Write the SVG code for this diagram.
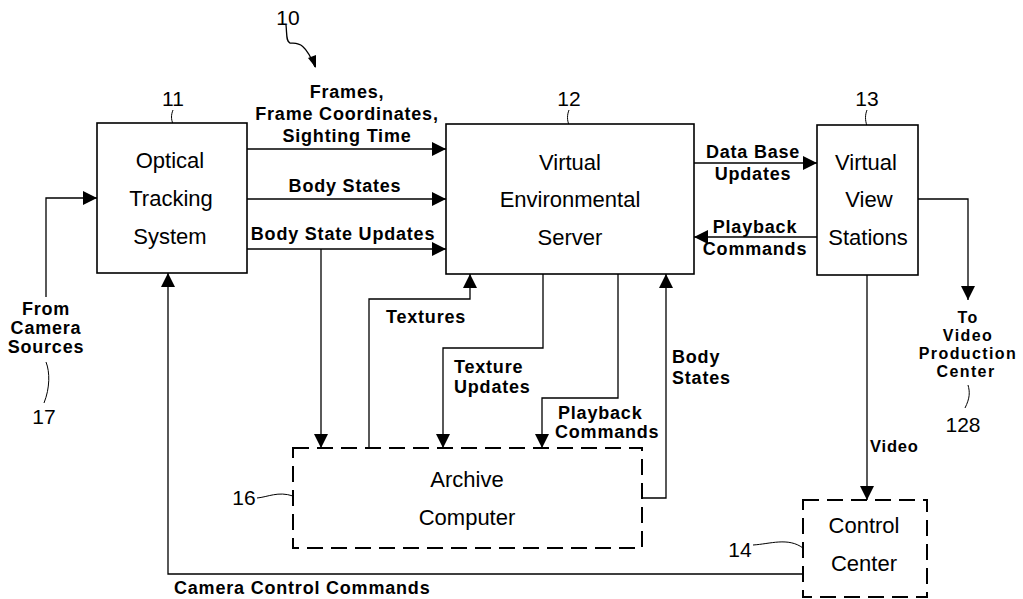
<svg xmlns="http://www.w3.org/2000/svg" width="1023" height="599" viewBox="0 0 1023 599">
<style>
.box{fill:#fff;stroke:#000;stroke-width:1.6}
.dbox{fill:#fff;stroke:#000;stroke-width:2;stroke-dasharray:16 8}
.ln{fill:none;stroke:#000;stroke-width:1.3}
.lead{fill:none;stroke:#000;stroke-width:1}
.t{font-family:"Liberation Sans",Arial,sans-serif;font-size:22px;text-anchor:middle;fill:#000}
.n{font-family:"Liberation Sans",Arial,sans-serif;font-size:21px;text-anchor:middle;fill:#000}
.b{font-family:"Liberation Sans",Arial,sans-serif;font-size:18px;font-weight:bold;letter-spacing:0.8px;fill:#000}
.s{font-size:16px;letter-spacing:1.4px}
.c{text-anchor:middle}
</style>
<defs>
<marker id="ah" viewBox="0 0 10 10" refX="10" refY="5" markerWidth="14" markerHeight="14" markerUnits="userSpaceOnUse" orient="auto">
<path d="M0,0 L10,5 L0,10 Z" fill="#000"/>
</marker>
</defs>
<rect width="1023" height="599" fill="#fff"/>

<g id="connectors">
<path class="ln" d="M247,149 H446" marker-end="url(#ah)"/>
<path class="ln" d="M247,199 H446" marker-end="url(#ah)"/>
<path class="ln" d="M247,249 H446" marker-end="url(#ah)"/>
<path class="ln" d="M694,163 H817" marker-end="url(#ah)"/>
<path class="ln" d="M817,237 H694" marker-end="url(#ah)"/>
<path class="ln" d="M918,199 H968 V300" marker-end="url(#ah)"/>
<path class="ln" d="M46,297 V198 H97" marker-end="url(#ah)"/>
<path class="ln" d="M321,249 V448" marker-end="url(#ah)"/>
<path class="ln" d="M369,448 V299 H470 V274" marker-end="url(#ah)"/>
<path class="ln" d="M543,274 V348 H443 V448" marker-end="url(#ah)"/>
<path class="ln" d="M618,274 V398 H542 V448" marker-end="url(#ah)"/>
<path class="ln" d="M642,498 H666 V274" marker-end="url(#ah)"/>
<path class="ln" d="M867,275 V500" marker-end="url(#ah)"/>
<path class="ln" d="M803,574 H168 V273" marker-end="url(#ah)"/>
<path class="ln" d="M286,25 C287,34 286,42 290,43 C297,44 304,40 315,67" />
<path d="M308,58 L316,68 L316,55 Z" fill="#000"/>
</g>

<g id="labels">
<text class="b c" x="347" y="98">Frames,</text>
<text class="b c" x="347" y="120">Frame Coordinates,</text>
<text class="b c" x="347" y="142">Sighting Time</text>
<text class="b c" x="345" y="192">Body States</text>
<text class="b c" x="343" y="240">Body State Updates</text>
<text class="b c" x="753" y="158">Data Base</text>
<text class="b c" x="753" y="180">Updates</text>
<text class="b c" x="755" y="233">Playback</text>
<text class="b c" x="755" y="255">Commands</text>
<text class="b s c" x="968" y="323">To</text>
<text class="b s c" x="968" y="341">Video</text>
<text class="b s c" x="968" y="359">Production</text>
<text class="b s c" x="966" y="377">Center</text>
<text class="b c" x="46" y="315">From</text>
<text class="b c" x="46" y="334">Camera</text>
<text class="b c" x="46" y="353">Sources</text>
<text class="b" x="386" y="323">Textures</text>
<text class="b" x="454" y="373">Texture</text>
<text class="b" x="454" y="393">Updates</text>
<text class="b" x="558" y="419">Playback</text>
<text class="b" x="555" y="438">Commands</text>
<text class="b" x="672" y="363">Body</text>
<text class="b" x="672" y="384">States</text>
<text class="b" x="870" y="452" style="font-size:16.5px">Video</text>
<text class="b" x="174" y="594">Camera Control Commands</text>
<text class="n" x="288" y="25">10</text>
<text class="n" x="173" y="106">11</text>
<text class="n" x="569" y="106">12</text>
<text class="n" x="867" y="106">13</text>
<text class="n" x="44" y="424">17</text>
<text class="n" x="963" y="432">128</text>
<text class="n" x="244" y="505">16</text>
<text class="n" x="740" y="557">14</text>
<path class="lead" d="M173,110 C171,115 171,119 173,124"/>
<path class="lead" d="M569,110 C567,115 567,120 569,125"/>
<path class="lead" d="M867,110 C865,115 865,120 867,126"/>
<path class="lead" d="M46,362 C50,372 50,388 44,403"/>
<path class="lead" d="M968,385 C970,392 970,398 965,408"/>
<path class="lead" d="M257,498 C268,497 278,491 293,496"/>
<path class="lead" d="M753,545 C770,544 788,537 803,548"/>
</g>

<g id="n11"><rect class="box" x="97" y="123" width="150" height="150"/>
<text class="t" x="170" y="168">Optical</text><text class="t" x="171" y="206">Tracking</text><text class="t" x="170" y="244">System</text></g>
<g id="n12"><rect class="box" x="446" y="124" width="248" height="150"/>
<text class="t" x="570" y="170">Virtual</text><text class="t" x="570" y="207">Environmental</text><text class="t" x="570" y="245">Server</text></g>
<g id="n13"><rect class="box" x="817" y="125" width="101" height="150"/>
<text class="t" x="866" y="170">Virtual</text><text class="t" x="869" y="207">View</text><text class="t" x="868" y="245">Stations</text></g>
<g id="n16"><rect class="dbox" x="293" y="448" width="349" height="100"/>
<text class="t" x="467" y="487">Archive</text><text class="t" x="467" y="525">Computer</text></g>
<g id="n14"><rect class="dbox" x="803" y="500" width="124" height="97"/>
<text class="t" x="864" y="533">Control</text><text class="t" x="864" y="571">Center</text></g>
</svg>
